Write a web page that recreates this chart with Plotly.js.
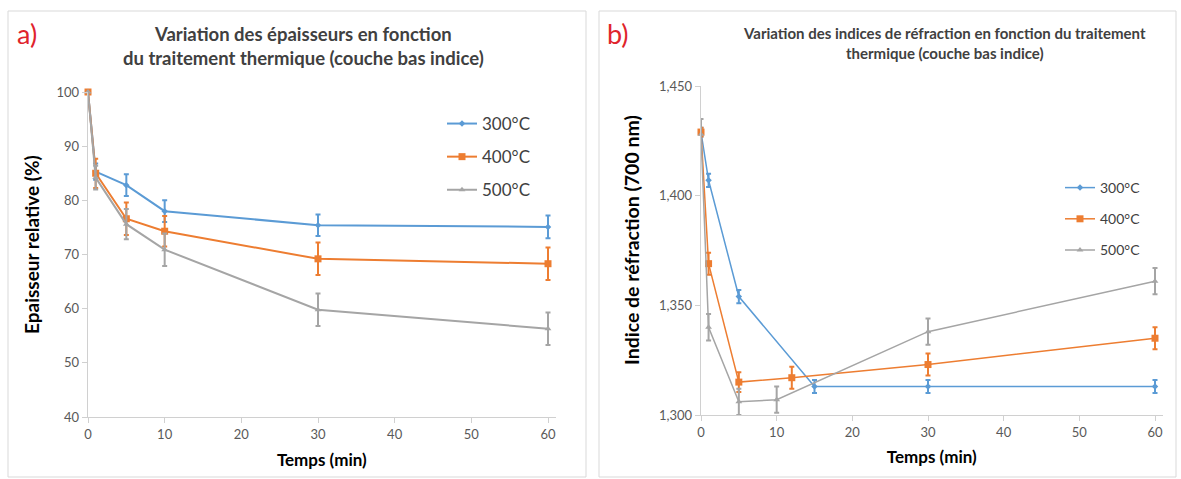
<!DOCTYPE html>
<html>
<head>
<meta charset="utf-8">
<script src="https://cdn.plot.ly/plotly-3.0.1.min.js"></script>
<style>html,body{margin:0;padding:0;background:#fff;}#chart{width:1181px;height:479px;}</style>
</head>
<body>
<div id="chart"></div>
<script>
// ---------- Data ----------
const seriesNames = ['300°C', '400°C', '500°C'];

// Panel a) : relative thickness (%)
const tempsA = [0, 1, 5, 10, 30, 60];
const ep300 = [100, 85.3, 82.8, 78.0, 75.4, 75.1];
const ep300Err = [0, 1.5, 2.0, 2.0, 2.0, 2.1];
const ep400 = [100, 85.0, 76.6, 74.3, 69.2, 68.3];
const ep400Err = [0, 2.7, 3.0, 2.8, 3.0, 3.0];
const ep500 = [100, 84.2, 75.6, 70.9, 59.8, 56.3];
const ep500Err = [0, 2.2, 2.8, 3.0, 3.0, 3.0];

// Panel b) : refractive index at 700 nm
const tempsB300 = [0, 1, 5, 15, 30, 60];
const ind300 = [1.429, 1.407, 1.354, 1.313, 1.313, 1.313];
const ind300Err = [0.002, 0.003, 0.003, 0.003, 0.003, 0.003];
const tempsB400 = [0, 1, 5, 12, 30, 60];
const ind400 = [1.429, 1.369, 1.315, 1.317, 1.323, 1.335];
const ind400Err = [0.002, 0.005, 0.0045, 0.005, 0.005, 0.005];
const tempsB500 = [0, 1, 5, 10, 30, 60];
const ind500 = [1.428, 1.340, 1.306, 1.307, 1.338, 1.361];
const ind500Err = [0.007, 0.006, 0.006, 0.006, 0.006, 0.006];

const colors = ['#5B9BD5', '#ED7D31', '#A5A5A5'];
const symbols = ['diamond', 'square', 'triangle-up'];
const msizes = [5, 7, 6];

// ---------- Traces ----------
function mk(x, y, err, i, xa, ya, legend, lw) {
  return {
    type: 'scatter', mode: 'lines+markers',
    x: x, y: y, name: seriesNames[i],
    xaxis: xa, yaxis: ya, legend: legend, legendgroup: legend + i,
    line: {color: colors[i], width: lw},
    marker: {color: colors[i], symbol: symbols[i], size: msizes[i]},
    error_y: {type: 'data', array: err, visible: true, color: colors[i], thickness: 2, width: 2.5},
    cliponaxis: false
  };
}
const traces = [
  mk(tempsA, ep300, ep300Err, 0, 'x', 'y', 'legend', 2),
  mk(tempsA, ep400, ep400Err, 1, 'x', 'y', 'legend', 2),
  mk(tempsA, ep500, ep500Err, 2, 'x', 'y', 'legend', 2),
  mk(tempsB300, ind300, ind300Err, 0, 'x2', 'y2', 'legend2', 1.5),
  mk(tempsB400, ind400, ind400Err, 1, 'x2', 'y2', 'legend2', 1.5),
  mk(tempsB500, ind500, ind500Err, 2, 'x2', 'y2', 'legend2', 1.5)
];

// ---------- Layout ----------
const W = 1181, H = 479;
const px = v => v / W, py = v => 1 - v / H;
const FONT = 'Lato, "Open Sans", sans-serif';
const tickFont = {family: FONT, size: 13, color: '#595959'};
const xTitleFont = {family: FONT, size: 17, color: '#000', weight: 'bold'};
const axCommon = {
  showgrid: false, zeroline: false, showline: true, linecolor: '#D0D0D0', linewidth: 1.3,
  ticks: 'outside', ticklen: 5, tickcolor: '#D0D0D0', tickfont: tickFont, fixedrange: true
};

const layout = {
  width: W, height: H,
  margin: {l: 0, r: 0, t: 0, b: 0},
  paper_bgcolor: '#fff', plot_bgcolor: 'rgba(0,0,0,0)',
  separators: ', ',
  font: {family: FONT},
  xaxis: Object.assign({}, axCommon, {
    domain: [px(88), px(88 + 460 * 61 / 60)], range: [0, 61], dtick: 10, tick0: 0, anchor: 'y',
    title: {text: 'Temps (min)', font: xTitleFont, standoff: 13}
  }),
  yaxis: Object.assign({}, axCommon, {
    domain: [py(417), py(92)], range: [40, 100], dtick: 10, tick0: 40, anchor: 'x'
  }),
  xaxis2: Object.assign({}, axCommon, {
    domain: [px(701), px(701 + 454 * 61 / 60)], range: [0, 61], dtick: 10, tick0: 0, anchor: 'y2',
    title: {text: 'Temps (min)', font: xTitleFont, standoff: 12}
  }),
  yaxis2: Object.assign({}, axCommon, {
    domain: [py(415), py(86)], range: [1.3, 1.45], dtick: 0.05, tick0: 1.3, tickformat: '.3f', anchor: 'x2'
  }),
  legend: {
    x: px(442), y: py(106), xanchor: 'left', yanchor: 'top',
    font: {family: FONT, size: 17, color: '#404040'}, bgcolor: 'rgba(0,0,0,0)',
    itemwidth: 30, tracegroupgap: 8, traceorder: 'grouped'
  },
  legend2: {
    x: px(1060), y: py(172), xanchor: 'left', yanchor: 'top',
    font: {family: FONT, size: 14, color: '#404040'}, bgcolor: 'rgba(0,0,0,0)',
    itemwidth: 30, tracegroupgap: 10, traceorder: 'grouped'
  },
  shapes: [
    {type: 'rect', xref: 'paper', yref: 'paper', x0: px(8), x1: px(586), y0: py(477), y1: py(11),
     line: {color: '#D9D9D9', width: 1}},
    {type: 'rect', xref: 'paper', yref: 'paper', x0: px(599), x1: px(1176), y0: py(477), y1: py(11),
     line: {color: '#D9D9D9', width: 1}}
  ],
  annotations: [
    {text: 'a)', xref: 'paper', yref: 'paper', x: px(15), y: py(34), xanchor: 'left', yanchor: 'middle',
     showarrow: false, font: {family: FONT, size: 27, color: '#E0242C'}},
    {text: 'b)', xref: 'paper', yref: 'paper', x: px(605), y: py(34), xanchor: 'left', yanchor: 'middle',
     showarrow: false, font: {family: FONT, size: 27, color: '#E0242C'}},
    {text: 'Variation des épaisseurs en fonction<br>du traitement thermique (couche bas indice)',
     xref: 'paper', yref: 'paper', x: px(304), y: py(46), xanchor: 'center', yanchor: 'middle',
     showarrow: false, align: 'center',
     font: {family: FONT, size: 18.5, color: '#404040', weight: 'bold'}},
    {text: 'Variation des indices de réfraction en fonction du traitement<br>thermique (couche bas indice)',
     xref: 'paper', yref: 'paper', x: px(944), y: py(43), xanchor: 'center', yanchor: 'middle',
     showarrow: false, align: 'center',
     font: {family: FONT, size: 15, color: '#404040', weight: 'bold'}},
    {text: 'Epaisseur relative (%)', textangle: -90,
     xref: 'paper', yref: 'paper', x: px(31), y: py(245), xanchor: 'center', yanchor: 'middle',
     showarrow: false, font: {family: FONT, size: 19, color: '#000', weight: 'bold'}},
    {text: 'Indice de réfraction (700 nm)', textangle: -90,
     xref: 'paper', yref: 'paper', x: px(631), y: py(240), xanchor: 'center', yanchor: 'middle',
     showarrow: false, font: {family: FONT, size: 19.5, color: '#000', weight: 'bold'}}
  ],
  showlegend: true
};

Plotly.newPlot('chart', traces, layout, {displayModeBar: false, staticPlot: true});
</script>
</body>
</html>
